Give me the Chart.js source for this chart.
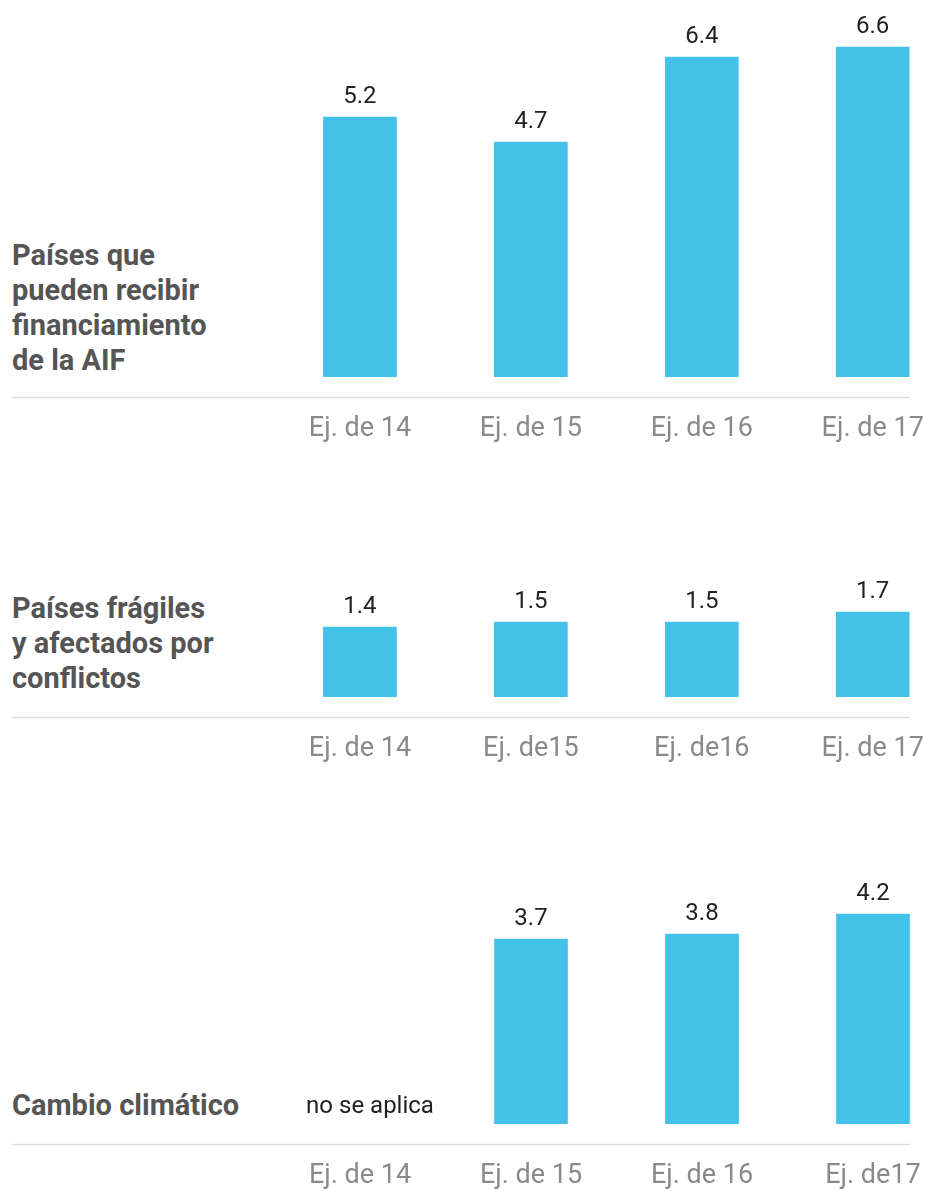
<!DOCTYPE html>
<html lang="es">
<head>
<meta charset="utf-8">
<title>Financiamiento por ejercicio</title>
<script src="https://cdn.jsdelivr.net/npm/chart.js@4.4.1/dist/chart.umd.min.js"></script>
<style>
    body {
        margin: 0;
        width: 930px;
        height: 1191px;
        overflow: hidden;
        background: #fff;
        position: relative;
        font-family: Roboto, "Noto Sans", sans-serif;
    }
    .panel { position: absolute; left: 0; }
    .title {
        position: absolute;
        left: 12px;
        font-size: 29px;
        font-weight: 700;
        line-height: 35px;
        color: #555555;
    }
</style>
</head>
<body>
<div class="title" style="top:238px">Países que<br>pueden recibir<br>financiamiento<br>de la AIF</div>
<div class="title" style="top:591px">Países frágiles<br>y afectados por<br>conflictos</div>
<div class="title" style="top:1088px">Cambio climático</div>

<canvas id="idaChart" class="panel" width="960" height="447" style="top:0px"></canvas>
<canvas id="fcsChart" class="panel" width="960" height="207" style="top:560px"></canvas>
<canvas id="climateChart" class="panel" width="960" height="354" style="top:840px"></canvas>

<script>
// values
const idaLabels = ["Ej. de 14", "Ej. de 15", "Ej. de 16", "Ej. de 17"];
const idaValues = [5.2, 4.7, 6.4, 6.6];

const fcsLabels = ["Ej. de 14", "Ej. de15", "Ej. de16", "Ej. de 17"];
const fcsValues = [1.4, 1.5, 1.5, 1.7];

const climateLabels = ["Ej. de 14", "Ej. de 15", "Ej. de 16", "Ej. de17"];
const climateValues = [null, 3.7, 3.8, 4.2];

const missingNote = "no se aplica";

const BAR_COLOR = "#43C1E9";

// value on top of each bar, note where there is no value
const valueLabels = {
    id: "valueLabels",
    afterDatasetsDraw(chart) {
        let ctx = chart.ctx;
        let meta = chart.getDatasetMeta(0);
        let values = chart.data.datasets[0].data;
        ctx.save();
        ctx.fillStyle = "#222222";
        ctx.textAlign = "center";
        ctx.font = "24px Roboto";
        values.forEach((v, i) => {
            if (v === null) {
                let x = chart.scales.x.getPixelForValue(i);
                ctx.textBaseline = "middle";
                ctx.fillText(missingNote, x + 10, chart.chartArea.bottom - 17);
                return;
            }
            let bar = meta.data[i];
            ctx.textBaseline = "alphabetic";
            ctx.fillText(v.toFixed(1), bar.x, bar.y - 14);
        });
        ctx.restore();
    }
};

// thin grey rule under the bars, running under the title too
const separator = {
    id: "separator",
    afterDraw(chart) {
        let ctx = chart.ctx;
        let y = chart.chartArea.bottom + 20.5;
        ctx.save();
        ctx.strokeStyle = "#dddddd";
        ctx.lineWidth = 1.5;
        ctx.beginPath();
        ctx.moveTo(12, y);
        ctx.lineTo(910, y);
        ctx.stroke();
        ctx.restore();
    }
};

function makePanel(canvasId, labels, values, yMax, padTop) {
    let ctx = document.getElementById(canvasId).getContext("2d");
    return new Chart(ctx, {
        type: "bar",
        data: {
            labels: labels,
            datasets: [{
                data: values,
                backgroundColor: BAR_COLOR,
                borderWidth: 0,
                barThickness: 73
            }]
        },
        options: {
            responsive: false,
            animation: false,
            layout: { padding: { left: 274.5, right: 1.5, top: padTop, bottom: 0 } },
            plugins: {
                legend: { display: false },
                tooltip: { enabled: false }
            },
            scales: {
                x: {
                    grid: { display: false, drawTicks: false },
                    border: { display: false },
                    ticks: {
                        padding: 36,
                        color: "#8a8a8a",
                        font: { family: "Roboto", size: 27 }
                    },
                    afterFit(scale) { scale.height = 70; }
                },
                y: {
                    display: false,
                    min: 0,
                    max: yMax
                }
            }
        },
        plugins: [valueLabels, separator]
    });
}

document.addEventListener("DOMContentLoaded", function () {
    makePanel("idaChart", idaLabels, idaValues, 7, 27);
    makePanel("fcsChart", fcsLabels, fcsValues, 2, 37);
    makePanel("climateChart", climateLabels, climateValues, 5, 34);
});
</script>
</body>
</html>
